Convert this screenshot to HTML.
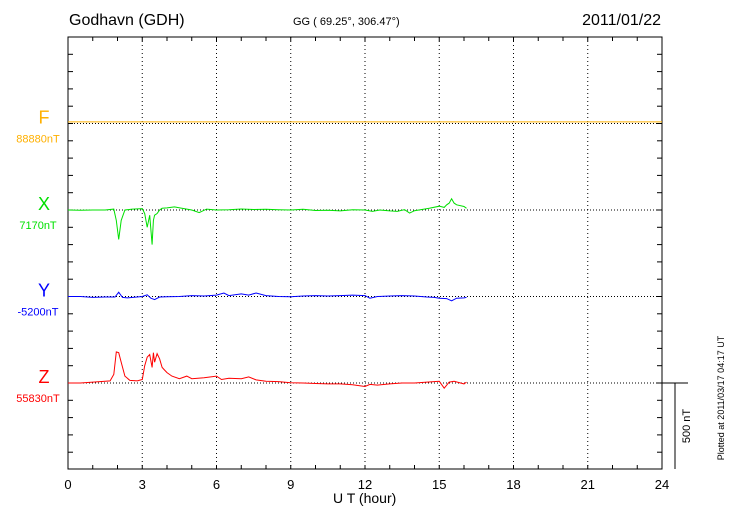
<!DOCTYPE html>
<html><head><meta charset="utf-8"><style>
body{margin:0;background:#fff;width:730px;height:520px;overflow:hidden}
text{font-family:"Liberation Sans",sans-serif}
</style></head><body>
<svg id="c" width="730" height="520" viewBox="0 0 730 520"></svg>
<script>
const hourTicks=[0,3,6,9,12,15,18,21,24];
const fTimes=[0,24];
const fVals=[9,9];
const xTimes=[0,0.5,1,1.5,1.85,1.95,2.05,2.15,2.3,2.6,3.0,3.1,3.2,3.3,3.4,3.45,3.5,3.6,3.7,3.8,4,4.3,4.6,5,5.3,5.6,6,6.5,7,7.5,8,8.5,9,9.5,10,10.5,11,11.5,12,12.3,12.6,13,13.3,13.6,13.8,14,14.3,14.6,15,15.2,15.3,15.4,15.5,15.6,15.7,16,16.1];
const xVals=[0,-2,0,0,5,-60,-170,-60,0,5,8,-20,-100,-30,-200,-60,-30,-20,0,10,12,18,10,0,-15,5,0,2,6,3,4,2,0,4,-3,-2,-5,2,0,-8,0,-5,-8,2,-18,-4,3,10,22,15,30,40,65,40,30,20,10];
const yTimes=[0,0.5,1,1.5,1.9,2.05,2.2,2.4,2.8,3.0,3.2,3.35,3.5,3.7,4,4.5,5,5.5,6,6.3,6.5,7,7.3,7.6,8,8.5,9,9.5,10,10.5,11,11.5,12,12.2,12.5,13,13.5,14,14.5,14.8,15,15.3,15.5,15.7,16,16.1];
const yVals=[0,0,-5,-3,-3,25,-5,-8,-3,0,10,-10,-18,-3,-2,0,5,3,8,20,5,15,8,20,5,0,-2,3,5,3,5,8,5,-10,0,3,5,3,-3,-5,-10,-12,-25,-10,-8,-5];
const zTimes=[0,0.5,1,1.5,1.7,1.85,1.95,2.05,2.15,2.3,2.5,2.8,3.0,3.1,3.2,3.3,3.4,3.45,3.5,3.6,3.7,3.8,3.9,4,4.2,4.5,4.8,5,5.5,6,6.2,6.5,7,7.3,7.6,8,8.5,9,9.5,10,10.5,11,11.5,12,12.2,12.5,13,13.5,14,14.5,15,15.2,15.4,15.6,16,16.1];
const zVals=[0,0,5,10,12,50,180,175,120,40,15,12,20,100,150,165,90,175,120,170,140,90,75,60,40,25,40,25,30,40,20,28,25,35,18,10,8,2,0,-3,-5,-5,-10,-20,-8,-12,-5,0,0,5,10,-30,5,10,-5,5];
const H0=68,H1=662,T=37,B=469;
const nT=86.5/500;
const sx=h=>H0+(H1-H0)*h/24;
const NS='http://www.w3.org/2000/svg';
const svg=document.getElementById('c');
function el(tag,attrs,parent){const e=document.createElementNS(NS,tag);for(const k in attrs)e.setAttribute(k,attrs[k]);(parent||svg).appendChild(e);return e;}
hourTicks.forEach(h=>{
 if(h>0&&h<24){const l=el('line',{x1:sx(h),x2:sx(h),y1:T,y2:B,stroke:'#000','stroke-width':1,'stroke-dasharray':'1,3'});
 
 }
 const t=el('text',{x:sx(h),y:489,'text-anchor':'middle','font-size':13});t.textContent=h;
 
 
});
for(let h=1;h<24;h++){el('line',{x1:sx(h),x2:sx(h),y1:T,y2:T+4,stroke:'#000'});el('line',{x1:sx(h),x2:sx(h),y1:B,y2:B-4,stroke:'#000'});}
for(let y=T+86.5/5;y<B-1;y+=86.5/5){el('line',{x1:H0,x2:H0+5,y1:y,y2:y,stroke:'#000'});el('line',{x1:H1,x2:H1-5,y1:y,y2:y,stroke:'#000'});}
const box=el('rect',{x:H0,y:T,width:H1-H0,height:B-T,fill:'none',stroke:'#000','stroke-width':1});


const series=[
 {n:'F',base:123.5,c:'#ffb000',t:fTimes,v:fVals,lbl:'88880nT'},
 {n:'X',base:210,c:'#00e000',t:xTimes,v:xVals,lbl:'7170nT'},
 {n:'Y',base:296.5,c:'#0000ff',t:yTimes,v:yVals,lbl:'-5200nT'},
 {n:'Z',base:383,c:'#ff0000',t:zTimes,v:zVals,lbl:'55830nT'}];
series.forEach(s=>{
 const b=el('line',{x1:H0,x2:H1,y1:s.base,y2:s.base,stroke:'#000','stroke-dasharray':'1,2'});
 
 
 const p=el('polyline',{points:s.t.map((t,i)=>sx(t).toFixed(1)+','+(s.base-s.v[i]*nT).toFixed(1)).join(' '),fill:'none',stroke:s.c,'stroke-width':1});
 
 
 const a=el('text',{x:44,y:s.base,'text-anchor':'middle','font-size':18,fill:s.c});a.textContent=s.n;
 
 
 const l=el('text',{x:38,y:s.base+19,'text-anchor':'middle','font-size':11,fill:s.c});l.textContent=s.lbl;
 
 
});
el('line',{x1:H1,x2:688,y1:383,y2:383,stroke:'#000'});
const sb=el('line',{x1:675,x2:675,y1:383,y2:469,stroke:'#000'});


</script>
<div style="position:absolute;left:0;top:0;width:730px;height:520px;pointer-events:none">
<span style="position:absolute;left:69px;top:12px;font:16px 'Liberation Sans',sans-serif">Godhavn (GDH)</span>
<span style="position:absolute;left:293px;top:16px;font:11px 'Liberation Sans',sans-serif">GG ( 69.25°, 306.47°)</span>
<span style="position:absolute;right:69px;top:12px;font:16px 'Liberation Sans',sans-serif">2011/01/22</span>
<span style="position:absolute;left:333px;top:490px;font:14px 'Liberation Sans',sans-serif">U T (hour)</span>
<span style="position:absolute;left:687px;top:426px;font:11px 'Liberation Sans',sans-serif;transform:translate(-50%,-50%) rotate(-90deg);white-space:nowrap">500 nT</span>
<span style="position:absolute;left:721px;top:398px;font:9px 'Liberation Sans',sans-serif;transform:translate(-50%,-50%) rotate(-90deg);white-space:nowrap">Plotted at 2011/03/17 04:17 UT</span>
</div>
</body></html>
